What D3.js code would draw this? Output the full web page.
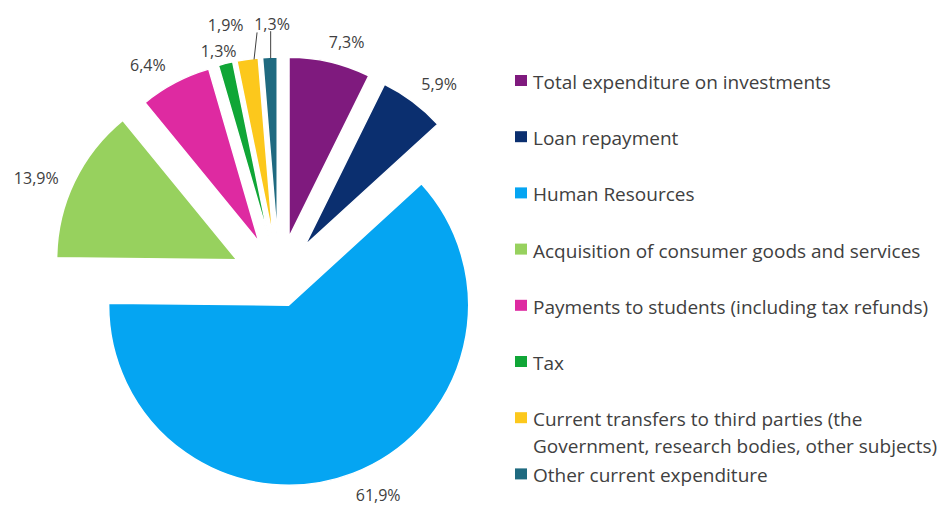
<!DOCTYPE html>
<html><head><meta charset="utf-8">
<script src="https://cdn.jsdelivr.net/npm/d3@7"></script>
<style>body{margin:0;background:#fff}svg{display:block}</style>
</head><body>
<svg id="c" width="951" height="506"></svg>
<script>
// ---- data ----
const categories = [
  "Total expenditure on investments",
  "Loan repayment",
  "Human Resources",
  "Acquisition of consumer goods and services",
  "Payments to students (including tax refunds)",
  "Tax",
  "Current transfers to third parties (the Government, research bodies, other subjects)",
  "Other current expenditure"
];
const values = [7.3, 5.9, 61.9, 13.9, 6.4, 1.3, 1.9, 1.3];
const valueLabels = ["7,3%", "5,9%", "61,9%", "13,9%", "6,4%", "1,3%", "1,9%", "1,3%"];
const legendLines = [
  ["Total expenditure on investments"],
  ["Loan repayment"],
  ["Human Resources"],
  ["Acquisition of consumer goods and services"],
  ["Payments to students (including tax refunds)"],
  ["Tax"],
  ["Current transfers to third parties (the", "Government, research bodies, other subjects)"],
  ["Other current expenditure"]
];
const colors = ["#7f1a7e", "#0b2f6f", "#05a5f2", "#97d15e", "#de2aa1", "#10a637", "#fcc81c", "#1f6a80"];

// ---- layout ----
const svg = d3.select("#c");
const cx = 279, cy = 280, R = 180;
const explode = [44, 43, 27, 47, 43, 43, 43, 43];
const textColor = "#404040";
const font = "'Open Sans', Lato, sans-serif";

const pie = d3.pie().sort(null).value(d => d)(values);
const arc = d3.arc().innerRadius(0).outerRadius(R);

const g = svg.append("g").attr("transform", `translate(${cx},${cy})`);
const mid = d => (d.startAngle + d.endAngle) / 2;
const apex = (d, i) => [Math.sin(mid(d)) * explode[i], -Math.cos(mid(d)) * explode[i]];

g.selectAll("path.slice").data(pie).join("path")
  .attr("class", "slice")
  .attr("d", arc)
  .attr("transform", (d, i) => `translate(${apex(d, i)})`)
  .attr("fill", (d, i) => colors[i])
  .attr("stroke", "#fff").attr("stroke-width", 1.5).attr("stroke-linejoin", "round");

// labels
const labelR = 200;
const labelNudge = [[-4,0],[-2,-2],[-2,3],[0,5],[-2,0],[14,7],[-3,-14],[19,-13]];
const labels = g.selectAll("text.lab").data(pie).join("text")
  .attr("class", "lab")
  .attr("font-family", font).attr("font-size", 16).attr("fill", textColor)
  .attr("text-anchor", "middle").attr("dominant-baseline", "central")
  .text((d, i) => valueLabels[i]);
labels.each(function(d, i) {
  const w = this.getComputedTextLength();
  const a = mid(d), p = apex(d, i);
  let x = p[0] + Math.sin(a) * labelR, y = p[1] - Math.cos(a) * labelR;
  x += Math.sign(Math.sin(a)) * 0.45 * w;
  x += labelNudge[i][0]; y += labelNudge[i][1];
  d3.select(this).attr("x", x).attr("y", y);
});
// leader lines for the two crowded labels (yellow and teal)
[6, 7].forEach(i => {
  const d = pie[i], p = apex(d, i);
  const a = d.startAngle + (d.endAngle - d.startAngle) * (i === 6 ? 0.8 : 0.55);
  const lab = labels.filter((e, j) => j === i);
  const ly = +lab.attr("y");
  const tx = p[0] + Math.sin(a) * (R - 1), ty = p[1] - Math.cos(a) * (R - 1);
  g.append("line").attr("x1", tx + (i === 6 ? 3 : 0)).attr("y1", ly + 7).attr("x2", tx).attr("y2", ty)
    .attr("stroke", textColor).attr("stroke-width", 1);
});

// legend
const legX = 515, legY0 = 82, legStep = 56.2;
const leg = svg.append("g");
legendLines.forEach((lines, i) => {
  const y = legY0 + i * legStep;
  leg.append("rect").attr("x", legX).attr("y", y - 7).attr("width", 12).attr("height", 11)
    .attr("fill", colors[i]);
  lines.forEach((t, k) => {
    leg.append("text").attr("x", legX + 18).attr("y", y + k * 27)
      .attr("dominant-baseline", "central")
      .attr("font-family", font).attr("font-size", 19).attr("fill", textColor)
      .text(t);
  });
});
</script>
</body></html>
